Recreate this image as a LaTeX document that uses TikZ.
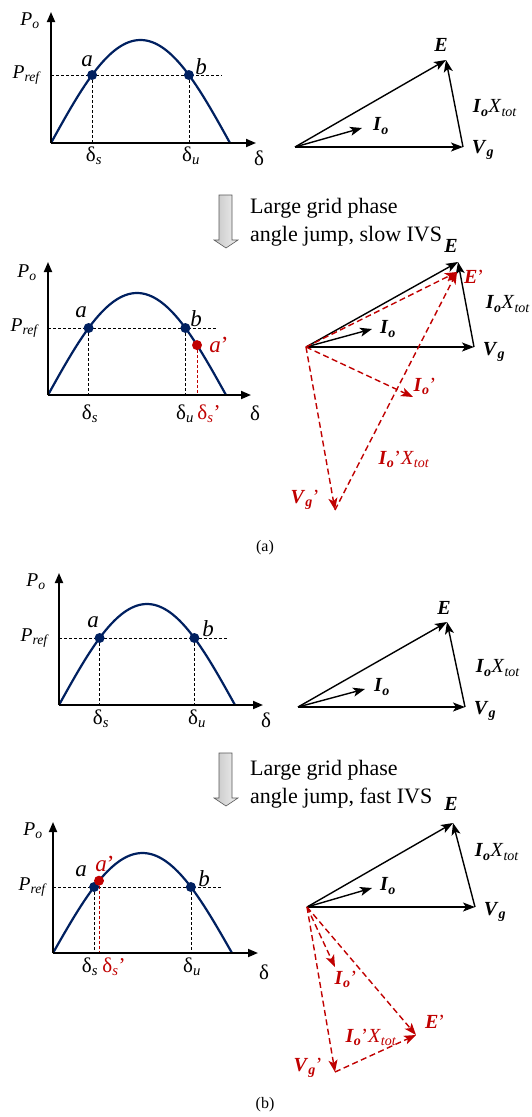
\documentclass[tikz,border=0pt]{standalone}
\usepackage{fontspec}
\setmainfont{Liberation Serif}
\usetikzlibrary{arrows.meta}
\definecolor{navy}{RGB}{0,32,96}
\definecolor{dred}{RGB}{192,0,0}
\newcommand{\Qbi}[1]{\textbf{\textit{#1}}}
\newcommand{\QPo}{\textit{P}\textsubscript{\textit{o}}}
\newcommand{\QPref}{\textit{P}\textsubscript{\textit{ref}}}
\newcommand{\Qds}{δ\textsubscript{\textit{s}}}
\newcommand{\Qdu}{δ\textsubscript{\textit{u}}}
\newcommand{\QE}{\Qbi{E}}
\newcommand{\QIo}{\Qbi{I}\textsubscript{\Qbi{o}}}
\newcommand{\QVg}{\Qbi{V}\textsubscript{\Qbi{g}}}
\newcommand{\QXt}{\textit{X}\textsubscript{\textit{tot}}}
\begin{document}
\begin{tikzpicture}[x=1pt,y=-1pt,
 axis/.style={line width=1.8pt,-{Triangle[length=10pt,width=8pt]}},
 curve/.style={navy,line width=2.2pt},
 guide/.style={line width=0.7pt,dash pattern=on 3pt off 2pt},
 rguide/.style={guide,dred},
 dot/.style={circle,fill=navy,inner sep=0pt,minimum size=10pt},
 rdot/.style={dot,fill=dred},
 vec/.style={line width=1.4pt,-{Stealth[length=12pt,width=9pt,inset=3pt]}},
 rvec/.style={vec,dred,dash pattern=on 6pt off 3.5pt},
 plab/.style={font=\fontsize{19.5}{23}\selectfont,inner sep=0pt},
 ptlab/.style={font=\fontsize{23}{27}\selectfont,inner sep=0pt},
 dlab/.style={font=\fontsize{21}{25}\selectfont,inner sep=0pt},
 vlab/.style={font=\fontsize{20}{24}\selectfont,inner sep=0pt},
 rtext/.style={text=dred},
 caption/.style={font=\fontsize{16}{19}\selectfont,inner sep=0pt},
 note/.style={font=\fontsize{22}{28}\selectfont,align=left,inner sep=0pt,anchor=north west},
 blockarrow/.style={draw=gray!70!black,line width=0.6pt,left color=gray!45,right color=gray!12}
]
\useasboundingbox (0,0) rectangle (532,1117);

% ================= Panel 1 (curve) =================
\coordinate (O1) at (51,143);
\coordinate (Y1) at (51,12);
\coordinate (X1) at (256,143);
\coordinate (R1) at (222,75);
\coordinate (pa1) at (92.1,75);
\coordinate (pb1) at (188.9,75);
\draw[guide] (O1 |- R1) -- (R1);
\draw[guide] (pa1) -- (pa1 |- O1);
\draw[guide] (pb1) -- (pb1 |- O1);
\draw[curve] plot[domain=0:180,samples=80] ({51+\x/180*179},{143-103*sin(\x)});
\draw[axis] (O1) -- (Y1);
\draw[axis] (O1) -- (X1);
\node[dot] (a1) at (pa1) {};
\node[dot] (b1) at (pb1) {};
\node[plab] (po1) at (30,21) {\QPo};
\node[plab] (pr1) at (27,75) {\QPref};
\node[ptlab] (la1) at (87,61) {\textit{a}};
\node[ptlab] (lb1) at (201,67) {\textit{b}};
\node[dlab] (ds1) at (94,156) {\Qds};
\node[dlab] (du1) at (191,156) {\Qdu};
\node[dlab] (dl1) at (259,158) {δ};

% ================= Panel 1 (phasors) =================
\coordinate (qO1) at (295,147);
\coordinate (qV1) at (463,147);
\coordinate (qE1) at (446,60);
\coordinate (qI1) at (362,128);
\draw[vec] (qO1) -- (qE1);
\draw[vec] (qO1) -- (qV1);
\draw[vec] (qV1) -- (qE1);
\draw[vec] (qO1) -- (qI1);
\node[vlab] (tE1) at (441,45) {\QE};
\node[vlab] (tV1) at (483,150) {\QVg};
\node[vlab] (tX1) at (495,108) {\QIo\QXt};
\node[vlab] (tI1) at (381,126) {\QIo};

% ================= Transition arrow 1 =================
\path[blockarrow] (219,195) -- (232,195) -- (232,240) -- (238,240) -- (226,248) -- (214,240) -- (219,240) -- cycle;
\node[note] (n1) at (250,198) {Large grid phase\\angle jump, slow IVS};

% ================= Panel 2 (curve) =================
\coordinate (O2) at (48,395);
\coordinate (Y2) at (48,262);
\coordinate (X2) at (251,395);
\coordinate (R2) at (217,328);
\coordinate (pa2) at (88.6,328);
\coordinate (pb2) at (185.4,328);
\coordinate (pc2) at (197,345.1);
\draw[guide] (O2 |- R2) -- (R2);
\draw[guide] (pa2) -- (pa2 |- O2);
\draw[guide] (pb2) -- (pb2 |- O2);
\draw[rguide] (pc2) -- (pc2 |- O2);
\draw[curve] plot[domain=0:180,samples=80] ({48+\x/180*178},{395-102*sin(\x)});
\draw[axis] (O2) -- (Y2);
\draw[axis] (O2) -- (X2);
\node[dot] (a2) at (pa2) {};
\node[dot] (b2) at (pb2) {};
\node[rdot] (c2) at (pc2) {};
\node[plab] (po2) at (27,273) {\QPo};
\node[plab] (pr2) at (25,328) {\QPref};
\node[ptlab] (la2) at (81,312) {\textit{a}};
\node[ptlab] (lb2) at (196,319) {\textit{b}};
\node[ptlab,rtext] (lc2) at (219,345) {\textit{a}'};
\node[dlab] (ds2) at (90,414) {\Qds};
\node[dlab] (du2) at (185,414) {\Qdu};
\node[dlab,rtext] (dc2) at (209,414) {\Qds'};
\node[dlab] (dl2) at (255,413) {δ};

% ================= Panel 2 (phasors) =================
\coordinate (qO2) at (306,347);
\coordinate (qV2) at (474,347);
\coordinate (qE2) at (458,262);
\coordinate (qI2) at (372,329);
\coordinate (qEp2) at (457,272);
\coordinate (qIp2) at (413,397);
\coordinate (qVp2) at (335,510);
\draw[vec] (qO2) -- (qE2);
\draw[vec] (qO2) -- (qV2);
\draw[vec] (qV2) -- (qE2);
\draw[vec] (qO2) -- (qI2);
\draw[rvec] (qO2) -- (qEp2);
\draw[rvec] (qO2) -- (qIp2);
\draw[rvec] (qO2) -- (qVp2);
\draw[rvec] (qVp2) -- (qEp2);
\node[vlab] (tE2) at (451,246) {\QE};
\node[vlab] (tV2) at (494,352) {\QVg};
\node[vlab] (tX2) at (508,304) {\QIo\QXt};
\node[vlab] (tI2) at (388,329) {\QIo};
\node[vlab,rtext] (tEp2) at (474,277) {\QE'};
\node[vlab,rtext] (tIp2) at (425,386) {\QIo'};
\node[vlab,rtext] (tVp2) at (305,500) {\QVg'};
\node[vlab,rtext] (tXp2) at (404,459) {\QIo'\QXt};

\node[caption] (capa) at (265,548) {(a)};

% ================= Panel 3 (curve) =================
\coordinate (O3) at (59,705);
\coordinate (Y3) at (59,573);
\coordinate (X3) at (263,705);
\coordinate (R3) at (227,638);
\coordinate (pa3) at (99.6,638);
\coordinate (pb3) at (194.4,638);
\draw[guide] (O3 |- R3) -- (R3);
\draw[guide] (pa3) -- (pa3 |- O3);
\draw[guide] (pb3) -- (pb3 |- O3);
\draw[curve] plot[domain=0:180,samples=80] ({59+\x/180*176},{705-101*sin(\x)});
\draw[axis] (O3) -- (Y3);
\draw[axis] (O3) -- (X3);
\node[dot] (a3) at (pa3) {};
\node[dot] (b3) at (pb3) {};
\node[plab] (po3) at (36,582) {\QPo};
\node[plab] (pr3) at (35,638) {\QPref};
\node[ptlab] (la3) at (93,622) {\textit{a}};
\node[ptlab] (lb3) at (208,629) {\textit{b}};
\node[dlab] (ds3) at (101,719) {\Qds};
\node[dlab] (du3) at (197,719) {\Qdu};
\node[dlab] (dl3) at (266,720) {δ};

% ================= Panel 3 (phasors) =================
\coordinate (qO3) at (298,707);
\coordinate (qV3) at (465,707);
\coordinate (qE3) at (447,622);
\coordinate (qI3) at (365,689);
\draw[vec] (qO3) -- (qE3);
\draw[vec] (qO3) -- (qV3);
\draw[vec] (qV3) -- (qE3);
\draw[vec] (qO3) -- (qI3);
\node[vlab] (tE3) at (444,608) {\QE};
\node[vlab] (tV3) at (485,711) {\QVg};
\node[vlab] (tX3) at (498,668) {\QIo\QXt};
\node[vlab] (tI3) at (382,687) {\QIo};

% ================= Transition arrow 2 =================
\path[blockarrow] (219,753) -- (232,753) -- (232,798) -- (238,798) -- (226,806) -- (214,798) -- (219,798) -- cycle;
\node[note] (n2) at (250,760) {Large grid phase\\angle jump, fast IVS};

% ================= Panel 4 (curve) =================
\coordinate (O4) at (53,953);
\coordinate (Y4) at (53,822);
\coordinate (X4) at (258,953);
\coordinate (R4) at (222,887);
\coordinate (pa4) at (94.1,887);
\coordinate (pb4) at (190.9,887);
\coordinate (pc4) at (99,880.7);
\draw[guide] (O4 |- R4) -- (R4);
\draw[guide] (pa4) -- (pa4 |- O4);
\draw[guide] (pb4) -- (pb4 |- O4);
\draw[rguide] (pc4) -- (pc4 |- O4);
\draw[curve] plot[domain=0:180,samples=80] ({53+\x/180*179},{953-100*sin(\x)});
\draw[axis] (O4) -- (Y4);
\draw[axis] (O4) -- (X4);
\node[dot] (a4) at (pa4) {};
\node[dot] (b4) at (pb4) {};
\node[rdot] (c4) at (pc4) {};
\node[plab] (po4) at (33,831) {\QPo};
\node[plab] (pr4) at (33,887) {\QPref};
\node[ptlab] (la4) at (81,871) {\textit{a}};
\node[ptlab,rtext] (lc4) at (105,864) {\textit{a}'};
\node[ptlab] (lb4) at (204,879) {\textit{b}};
\node[dlab] (ds4) at (90,967) {\Qds};
\node[dlab,rtext] (dc4) at (114,967) {\Qds'};
\node[dlab] (du4) at (192,967) {\Qdu};
\node[dlab] (dl4) at (264,972) {δ};

% ================= Panel 4 (phasors) =================
\coordinate (qO4) at (307,907);
\coordinate (qV4) at (475,907);
\coordinate (qE4) at (453,823);
\coordinate (qI4) at (372,888);
\coordinate (qIp4) at (335,967);
\coordinate (qEp4) at (416,1035);
\coordinate (qVp4) at (335,1072);
\draw[vec] (qO4) -- (qE4);
\draw[vec] (qO4) -- (qV4);
\draw[vec] (qV4) -- (qE4);
\draw[vec] (qO4) -- (qI4);
\draw[rvec] (qO4) -- (qIp4);
\draw[rvec] (qO4) -- (qEp4);
\draw[rvec] (qO4) -- (qVp4);
\draw[rvec] (qVp4) -- (qEp4);
\node[vlab] (tE4) at (451,804) {\QE};
\node[vlab] (tV4) at (495,912) {\QVg};
\node[vlab] (tX4) at (497,852) {\QIo\QXt};
\node[vlab] (tI4) at (388,886) {\QIo};
\node[vlab,rtext] (tIp4) at (346,979) {\QIo'};
\node[vlab,rtext] (tEp4) at (435,1022) {\QE'};
\node[vlab,rtext] (tVp4) at (308,1068) {\QVg'};
\node[vlab,rtext] (tXp4) at (371,1037) {\QIo'\QXt};

\node[caption] (capb) at (265,1105) {(b)};
\end{tikzpicture}
\end{document}
